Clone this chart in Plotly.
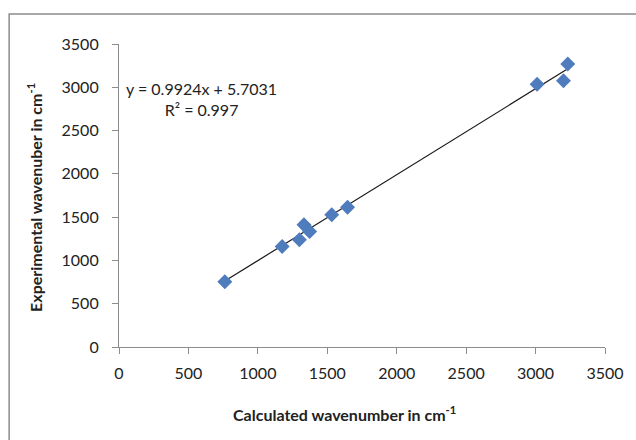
import plotly.graph_objects as go

# Data
calculated = [762, 1175, 1299, 1332, 1373, 1532, 1646, 3011, 3201, 3232]
experimental = [753, 1161, 1238, 1411, 1334, 1527, 1615, 3035, 3076, 3269]
slope = 0.9924
intercept = 5.7031
r_squared = 0.997
tick_vals = [0, 500, 1000, 1500, 2000, 2500, 3000, 3500]

W, H = 636, 440
L, R, T, B = 119, 26, 44, 93
pw, ph = W - L - R, H - T - B

def px(x):
    return (x - L) / pw

def py(y):
    return (T + ph - y) / ph

FONT = "Lato"
axis_col = "#8c8c8c"

x_line = [min(calculated), max(calculated)]
y_line = [slope * v + intercept for v in x_line]

fig = go.Figure()
fig.add_trace(go.Scatter(
    x=x_line, y=y_line, mode="lines",
    line=dict(color="#1a1a1a", width=1.2), hoverinfo="skip", showlegend=False))
fig.add_trace(go.Scatter(
    x=calculated, y=experimental, mode="markers",
    marker=dict(symbol="diamond", size=11.5, color="#4F7CBC"),
    showlegend=False))

common_axis = dict(
    range=[0, 3500], tickvals=tick_vals, showgrid=False, zeroline=False,
    showline=True, linecolor=axis_col, linewidth=1.2,
    ticks="outside", ticklen=6, tickcolor=axis_col, tickwidth=1.2,
    tickfont=dict(family=FONT, size=16, color="#222"),
)
fig.update_xaxes(**common_axis, ticklabelstandoff=6)
fig.update_yaxes(**common_axis, ticklabelstandoff=10)

fig.update_layout(
    width=W, height=H,
    margin=dict(l=L, r=R, t=T, b=B),
    paper_bgcolor="white", plot_bgcolor="white",
    font=dict(family=FONT, color="#222"),
    shapes=[dict(type="rect", xref="paper", yref="paper",
                 x0=px(8), x1=px(W + 10), y0=py(H + 10), y1=py(14),
                 line=dict(color=axis_col, width=1.5), layer="below")],
    annotations=[
        dict(xref="paper", yref="paper", x=px(347), y=py(413),
             text="<b>Calculated wavenumber in cm<sup>-1</sup></b>",
             showarrow=False, font=dict(family=FONT, size=16, color="#222"),
             xanchor="center", yanchor="middle"),
        dict(xref="paper", yref="paper", x=px(33), y=py(197),
             text="<b>Experimental wavenuber in cm<sup>-1</sup></b>",
             showarrow=False, textangle=-90,
             font=dict(family=FONT, size=16, color="#222"),
             xanchor="center", yanchor="middle"),
        dict(xref="paper", yref="paper", x=px(202), y=py(99),
             text=f"y = {slope}x + {intercept}<br>R² = {r_squared}",
             showarrow=False, align="center",
             font=dict(family=FONT, size=16, color="#222"),
             xanchor="center", yanchor="middle"),
    ],
)

fig.write_html("out.html")
